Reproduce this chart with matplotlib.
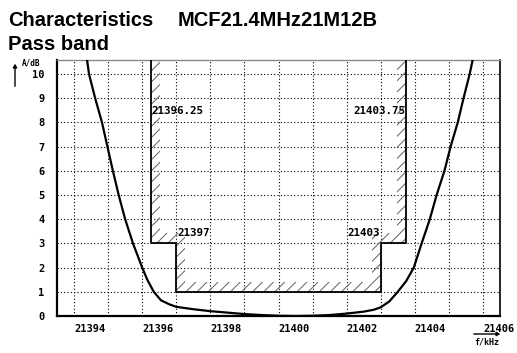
import matplotlib
matplotlib.use("Agg")
import matplotlib.pyplot as plt
from matplotlib.patches import Polygon, FancyArrowPatch
import numpy as np

# ---- data ----
freq_khz = [21394.38, 21394.44, 21394.62, 21394.82, 21394.98, 21395.14, 21395.31,
            21395.50, 21395.73, 21396.00, 21396.15, 21396.34, 21396.55, 21396.80,
            21397.00, 21397.50, 21398.00, 21398.50, 21399.00, 21399.50, 21400.00,
            21400.50, 21401.00, 21401.50, 21402.00, 21402.50, 21402.80, 21403.00,
            21403.25, 21403.50, 21403.75, 21403.97, 21404.20, 21404.44, 21404.64,
            21404.87, 21405.05, 21405.26, 21405.43, 21405.61, 21405.70]
atten_db = [10.6, 10.0, 9.0, 8.0, 7.0, 6.0, 5.0,
            4.0, 3.0, 2.0, 1.5, 1.0, 0.65, 0.48,
            0.38, 0.28, 0.20, 0.14, 0.08, 0.04, 0.01,
            0.0, 0.01, 0.04, 0.10, 0.18, 0.26, 0.36,
            0.60, 1.0, 1.45, 2.0, 3.0, 4.0, 5.0,
            6.0, 7.0, 8.0, 9.0, 10.0, 10.6]

mask_f = [21396.25, 21396.25, 21397, 21397, 21403, 21403, 21403.75, 21403.75]
mask_a = [11.0, 3, 3, 1, 1, 3, 3, 11.0]
mask_labels = ["21396.25", "21397", "21403", "21403.75"]
xticks = [21394, 21396, 21398, 21400, 21402, 21404, 21406]
yticks = list(range(0, 11))

W, H = 517, 353
fig = plt.figure(figsize=(W / 100, H / 100), dpi=100)
ax = fig.add_axes([57 / W, 1 - 316 / H, (500 - 57) / W, (316 - 60) / H])
ax.set_xlim(21393.5, 21406.5)
ax.set_ylim(0, 10.58)

# grid
for xv in np.arange(21394, 21407, 1):
    ax.axvline(xv, color="black", lw=0.8, ls=(0, (1, 2)), zorder=1)
for yv in yticks[1:]:
    ax.axhline(yv, color="black", lw=0.8, ls=(0, (1, 2)), zorder=1)

# hatched mask band
dx, dy = 0.27, 0.42
inner_f = [mask_f[0] + dx, mask_f[1] + dx, mask_f[2] + dx, mask_f[3] + dx,
           mask_f[4] - dx, mask_f[5] - dx, mask_f[6] - dx, mask_f[7] - dx]
inner_a = [mask_a[0], mask_a[1] + dy, mask_a[2] + dy, mask_a[3] + dy,
           mask_a[4] + dy, mask_a[5] + dy, mask_a[6] + dy, mask_a[7]]
poly = list(zip(mask_f, mask_a)) + list(zip(inner_f[::-1], inner_a[::-1]))
plt.rcParams['hatch.linewidth'] = 0.7
ax.add_patch(Polygon(poly, closed=True, facecolor="none", edgecolor="#606060",
                     lw=0, hatch="///", zorder=2))
ax.plot(mask_f, mask_a, color="black", lw=1.3, zorder=3)

# curve
ax.plot(freq_khz, atten_db, color="black", lw=1.6, zorder=4,
        solid_joinstyle="round")

# mask labels
lf = dict(family="DejaVu Sans Mono", fontweight="bold", fontsize=7.8, zorder=5)
ax.text(mask_f[0] + 0.03, 8.47, mask_labels[0], ha="left", va="center", **lf)
ax.text(mask_f[2] + 0.03, 3.45, mask_labels[1], ha="left", va="center", **lf)
ax.text(mask_f[4] - 0.03, 3.45, mask_labels[2], ha="right", va="center", **lf)
ax.text(mask_f[6] - 0.03, 8.47, mask_labels[3], ha="right", va="center", **lf)

# ticks
ax.set_xticks(xticks)
ax.set_xticklabels([str(v) for v in xticks], ha="left")
ax.set_yticks(yticks)
ax.set_yticklabels([str(v) for v in yticks])
ax.tick_params(length=0, labelsize=7.5)
ax.tick_params(axis="y", pad=9)
ax.tick_params(axis="x", pad=6)
for lab in ax.get_xticklabels() + ax.get_yticklabels():
    lab.set_family("DejaVu Sans Mono")
    lab.set_fontweight("bold")

for s in ["left", "bottom", "right"]:
    ax.spines[s].set_color("black")
ax.spines["left"].set_linewidth(1.6)
ax.spines["bottom"].set_linewidth(1.6)
ax.spines["right"].set_linewidth(1.2)
ax.spines["top"].set_color("#888888")
ax.spines["top"].set_linewidth(1.0)

# titles
tf = dict(fontsize=14.5, fontweight="bold", family="Liberation Sans", va="center", ha="left")
fig.text(8 / W, 1 - 21 / H, "Characteristics", **tf)
fig.text(178 / W, 1 - 21 / H, "MCF21.4MHz21M12B", **tf)
fig.text(8 / W, 1 - 45 / H, "Pass band", **tf)

# axis labels with arrows
fig.text(22 / W, 1 - 63 / H, "A/dB", fontsize=5.5, fontweight="bold",
         family="DejaVu Sans Mono", va="center", ha="left")
fig.add_artist(FancyArrowPatch((15 / W, 1 - 89 / H), (15 / W, 1 - 61 / H),
               transform=fig.transFigure, arrowstyle="-|>,head_length=2,head_width=1.2",
               color="black", lw=1.0, mutation_scale=1))
fig.text(487 / W, 1 - 342 / H, "f/kHz", fontsize=6, fontweight="bold",
         family="DejaVu Sans Mono", va="center", ha="center")
fig.add_artist(FancyArrowPatch((471 / W, 1 - 334 / H), (503 / W, 1 - 334 / H),
               transform=fig.transFigure, arrowstyle="-|>,head_length=2,head_width=1.2",
               color="black", lw=1.0, mutation_scale=1))

fig.savefig("out.png", dpi=100)
